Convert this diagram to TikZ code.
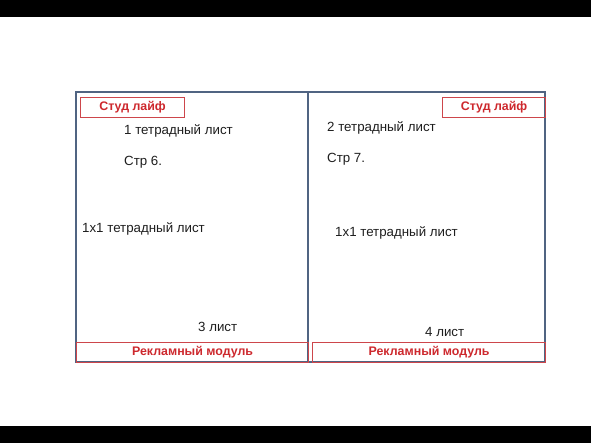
\documentclass[tikz,border=0pt]{standalone}
\usepackage{fontspec}
\setmainfont{Liberation Sans}
\definecolor{framecol}{RGB}{80,100,130}
\definecolor{redcol}{RGB}{205,40,45}
\definecolor{redline}{RGB}{205,70,75}
\definecolor{textcol}{RGB}{30,30,30}
\tikzset{
  redbox/.style={draw=redline, line width=1.2pt, text=redcol, font=\bfseries\fontsize{12.4}{14}\selectfont, inner sep=0pt, anchor=north west},
  note/.style={text=textcol, font=\fontsize{13.3}{15}\selectfont, anchor=west, inner sep=0pt}
}
\begin{document}
\begin{tikzpicture}[x=1pt,y=-1pt]
  \useasboundingbox (0,0) rectangle (591,443);
  \fill[black] (0,0) rectangle (591,17);
  \fill[black] (0,426) rectangle (591,443);
  % frame
  \draw[framecol, line width=1.8pt] (76,92) rectangle (545,362);
  \draw[framecol, line width=1.8pt] (308,92) -- (308,362);
  % headers and footers
  \node[redbox, minimum width=104pt, minimum height=20pt] (studL) at (80,97) {Студ лайф};
  \node[redbox, minimum width=103pt, minimum height=20pt] (studR) at (442,97) {Студ лайф};
  \node[redbox, minimum width=232pt, minimum height=20pt] (reklL) at (76,342) {Рекламный модуль};
  \node[redbox, minimum width=233pt, minimum height=20pt] (reklR) at (312,342) {Рекламный модуль};
  % left page
  \node[note] (list1) at (124,131) {1 тетрадный лист};
  \node[note] (str6) at (124,162) {Стр 6.};
  \node[note] (mod1) at (82,229) {1x1 тетрадный лист};
  \node[note] (list3) at (198,327) {3 лист};
  % right page
  \node[note] (list2) at (327,128) {2 тетрадный лист};
  \node[note] (str7) at (327,159) {Стр 7.};
  \node[note] (mod2) at (335,233) {1x1 тетрадный лист};
  \node[note] (list4) at (425,332) {4 лист};
\end{tikzpicture}
\end{document}
